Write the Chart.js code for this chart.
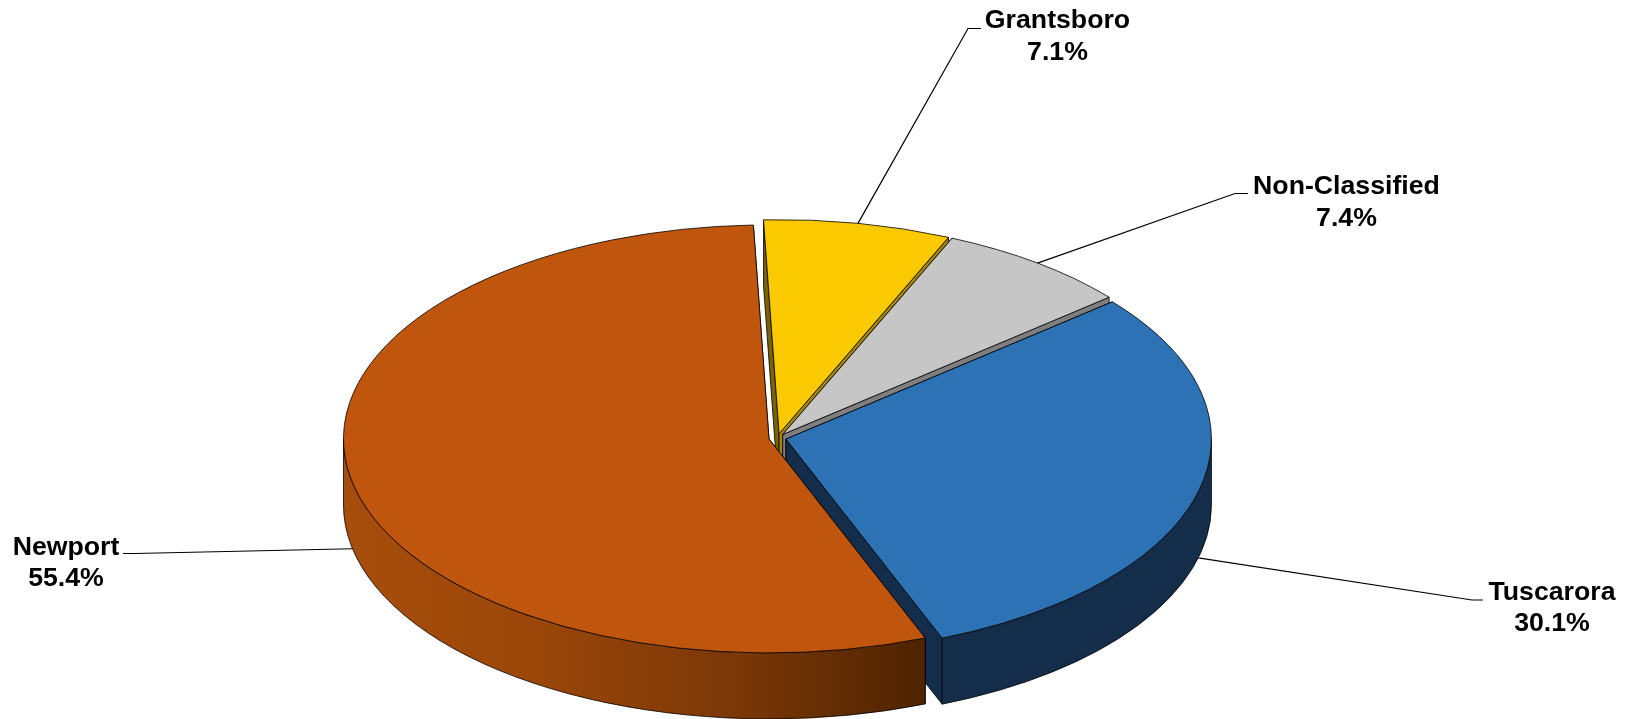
<!DOCTYPE html>
<html>
<head>
<meta charset="utf-8">
<title>Share by soil series</title>
<script src="https://cdn.jsdelivr.net/npm/chart.js@4/dist/chart.umd.min.js"></script>
<style>
    html, body { margin: 0; padding: 0; background: #fff; }
    #wrap { position: relative; width: 1633px; height: 719px; }
</style>
</head>
<body>
<div id="wrap"><canvas id="pie"></canvas></div>
<script>
// Chart data
const categories = ['Tuscarora', 'Newport', 'Grantsboro', 'Non-Classified'];
const shares = [30.1, 55.4, 7.1, 7.4];
const startRotation = 50.1;

// Slice colours
const topColors = ['#2D72B4', '#C0560D', '#FBC900', '#C6C6C6'];
const wallColors = ['#132D4A', null, '#7A6200', '#7F7F7F'];
const startFaceColors = ['#132D4A', '#7A3608', '#7A6200', '#7F7F7F'];
const endFaceColors = ['#132D4A', '#7A3608', '#A88800', '#7F7F7F'];
const newportWallStops = ['#A84E0C', '#9A4608', '#7C3808', '#4E2300'];

// Back slices are painted first so the front ones cover them
const paintOrder = [2, 3, 0, 1];

// 3D projection of the disc
const SQUASH = 0.503;
const DEPTH = 66;
const EXPLODE = 8.7;
const RADIUS = 425.5;

// Callout layout: text centre, first baseline, leader height, elbow and end of the leader
const labelX = [1552, 66, 1057.5, 1346.5];
const labelY = [599.5, 554.5, 28, 194];
const leaderY = [600, 553.5, 28.5, 193.5];
const elbowX = [1472, 135, 968, 1235];
const leaderEndX = [1483, 123, 981, 1248];
const LINE_HEIGHT = 31.5;
const LABEL_FONT = '700 26.7px "Liberation Sans", Arial, sans-serif';

// Position of one slice on the squashed disc
function sliceGeometry(arc, pivotY) {
    const { x, y, startAngle, endAngle } = arc.getProps(['x', 'y', 'startAngle', 'endAngle'], true);
    const mid = (startAngle + endAngle) / 2;
    return {
        cx: x + Math.cos(mid) * EXPLODE,
        cy: y + Math.sin(mid) * EXPLODE * SQUASH,
        r: RADIUS,
        start: startAngle,
        end: endAngle,
        mid: mid
    };
}

function rimPoint(g, angle) {
    return [g.cx + Math.cos(angle) * g.r, g.cy + Math.sin(angle) * g.r * SQUASH];
}

function drawCutFace(ctx, g, angle, color) {
    const rim = rimPoint(g, angle);
    ctx.beginPath();
    ctx.moveTo(g.cx, g.cy);
    ctx.lineTo(rim[0], rim[1]);
    ctx.lineTo(rim[0], rim[1] + DEPTH);
    ctx.lineTo(g.cx, g.cy + DEPTH);
    ctx.closePath();
    ctx.fillStyle = color;
    ctx.fill();
    ctx.strokeStyle = '#000';
    ctx.lineWidth = 0.8;
    ctx.stroke();
}

// Outer wall, only the part of the rim that faces the viewer
function drawWall(ctx, g, fill) {
    const TWO_PI = Math.PI * 2;
    for (let turn = -1; turn <= 1; turn++) {
        const from = Math.max(g.start, turn * TWO_PI);
        const to = Math.min(g.end, turn * TWO_PI + Math.PI);
        if (to <= from) continue;
        ctx.beginPath();
        ctx.ellipse(g.cx, g.cy, g.r, g.r * SQUASH, 0, from, to);
        ctx.ellipse(g.cx, g.cy + DEPTH, g.r, g.r * SQUASH, 0, to, from, true);
        ctx.closePath();
        ctx.fillStyle = fill;
        ctx.fill();
        ctx.strokeStyle = '#000';
        ctx.lineWidth = 0.8;
        ctx.stroke();
    }
}

function drawLabels(chart, geometries) {
    const ctx = chart.ctx;
    categories.forEach((name, i) => {
        const g = geometries[i];
        // Front slices take their leader from the bottom of the wall, back ones from the top rim
        const rim = rimPoint(g, g.mid);
        const startY = Math.sin(g.mid) > 0 ? rim[1] + DEPTH : rim[1];

        ctx.beginPath();
        ctx.moveTo(rim[0], startY);
        ctx.lineTo(elbowX[i], leaderY[i]);
        ctx.lineTo(leaderEndX[i], leaderY[i]);
        ctx.strokeStyle = '#000';
        ctx.lineWidth = 1.2;
        ctx.stroke();

        ctx.fillStyle = '#000';
        ctx.font = LABEL_FONT;
        ctx.textAlign = 'center';
        ctx.textBaseline = 'alphabetic';
        ctx.fillText(name, labelX[i], labelY[i]);
        ctx.fillText(shares[i].toFixed(1) + '%', labelX[i], labelY[i] + LINE_HEIGHT);
    });
}

// Replaces the flat pie drawing with an extruded, tilted one built on the arc elements
const tiltedPie = {
    id: 'tiltedPie',
    beforeDatasetsDraw(chart) {
        const ctx = chart.ctx;
        const arcs = chart.getDatasetMeta(0).data;
        const geometries = arcs.map(arc => sliceGeometry(arc));

        paintOrder.forEach(i => {
            const arc = arcs[i];
            const g = geometries[i];

            drawCutFace(ctx, g, g.start, startFaceColors[i]);
            drawCutFace(ctx, g, g.end, endFaceColors[i]);

            let wall = wallColors[i];
            if (!wall) {
                wall = ctx.createLinearGradient(g.cx - g.r, 0, rimPoint(g, g.start)[0], 0);
                newportWallStops.forEach((c, n) => wall.addColorStop(n / (newportWallStops.length - 1), c));
            }
            drawWall(ctx, g, wall);

            // Slice top: the library's own arc, flattened onto the disc
            ctx.save();
            ctx.translate(g.cx - arc.x, g.cy);
            ctx.scale(1, SQUASH);
            ctx.translate(0, -arc.y);
            arc.draw(ctx);
            ctx.restore();

            ctx.beginPath();
            ctx.moveTo(g.cx, g.cy);
            ctx.ellipse(g.cx, g.cy, g.r, g.r * SQUASH, 0, g.start, g.end);
            ctx.closePath();
            ctx.strokeStyle = '#000';
            ctx.lineWidth = 0.8;
            ctx.stroke();
        });

        drawLabels(chart, geometries);
        return false;
    }
};

new Chart(document.getElementById('pie').getContext('2d'), {
    type: 'pie',
    data: {
        labels: categories,
        datasets: [{
            data: shares,
            backgroundColor: topColors,
            borderWidth: 0
        }]
    },
    options: {
        responsive: true,
        maintainAspectRatio: false,
        animation: false,
        rotation: startRotation,
        radius: RADIUS,
        layout: { padding: { right: 78, top: 157 } },
        plugins: {
            legend: { display: false },
            tooltip: { enabled: false }
        }
    },
    plugins: [tiltedPie]
});
</script>
</body>
</html>
